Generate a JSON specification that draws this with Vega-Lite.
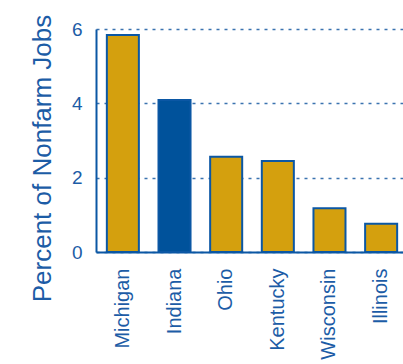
{
  "$schema": "https://vega.github.io/schema/vega-lite/v6.json",
  "autosize": {"type": "none"},
  "padding": {"left": 96, "top": 29, "right": 0, "bottom": 112},
  "width": 312,
  "height": 223,
  "background": "white",
  "config": {
    "view": {"stroke": null},
    "font": "Liberation Sans"
  },
  "data": {
    "values": [
      {"state": "Michigan", "pct": 5.84, "highlight": "no"},
      {"state": "Indiana", "pct": 4.09, "highlight": "yes"},
      {"state": "Ohio", "pct": 2.56, "highlight": "no"},
      {"state": "Kentucky", "pct": 2.45, "highlight": "no"},
      {"state": "Wisconsin", "pct": 1.18, "highlight": "no"},
      {"state": "Illinois", "pct": 0.76, "highlight": "no"}
    ]
  },
  "mark": {"type": "bar", "stroke": "#0B57A4", "strokeWidth": 2},
  "encoding": {
    "x": {
      "field": "state",
      "type": "nominal",
      "sort": null,
      "scale": {"paddingInner": 0.38, "paddingOuter": 0.21},
      "axis": {
        "title": null,
        "labelAngle": -90,
        "labelAlign": "right",
        "labelBaseline": "middle",
        "labelFontSize": 20,
        "labelColor": "#1C5CA6",
        "labelPadding": 16,
        "ticks": false,
        "domainColor": "#0B57A4",
        "domainWidth": 2,
        "grid": false
      }
    },
    "y": {
      "field": "pct",
      "type": "quantitative",
      "scale": {"domain": [0, 6], "nice": false},
      "axis": {
        "title": "Percent of Nonfarm Jobs",
        "titleFontSize": 26,
        "titleFontWeight": "normal",
        "titleColor": "#1C5CA6",
        "titleX": -46,
        "titleY": 129,
        "titleBaseline": "alphabetic",
        "values": [0, 2, 4, 6],
        "labelFontSize": 19,
        "labelColor": "#1C5CA6",
        "labelPadding": 14,
        "ticks": false,
        "domainColor": "#0B57A4",
        "domainWidth": 2,
        "grid": true,
        "gridColor": "#3B73B0",
        "gridWidth": 1.5,
        "gridDash": [3, 5]
      }
    },
    "fill": {
      "field": "highlight",
      "type": "nominal",
      "scale": {"domain": ["no", "yes"], "range": ["#D4A00E", "#00529B"]},
      "legend": null
    }
  }
}
